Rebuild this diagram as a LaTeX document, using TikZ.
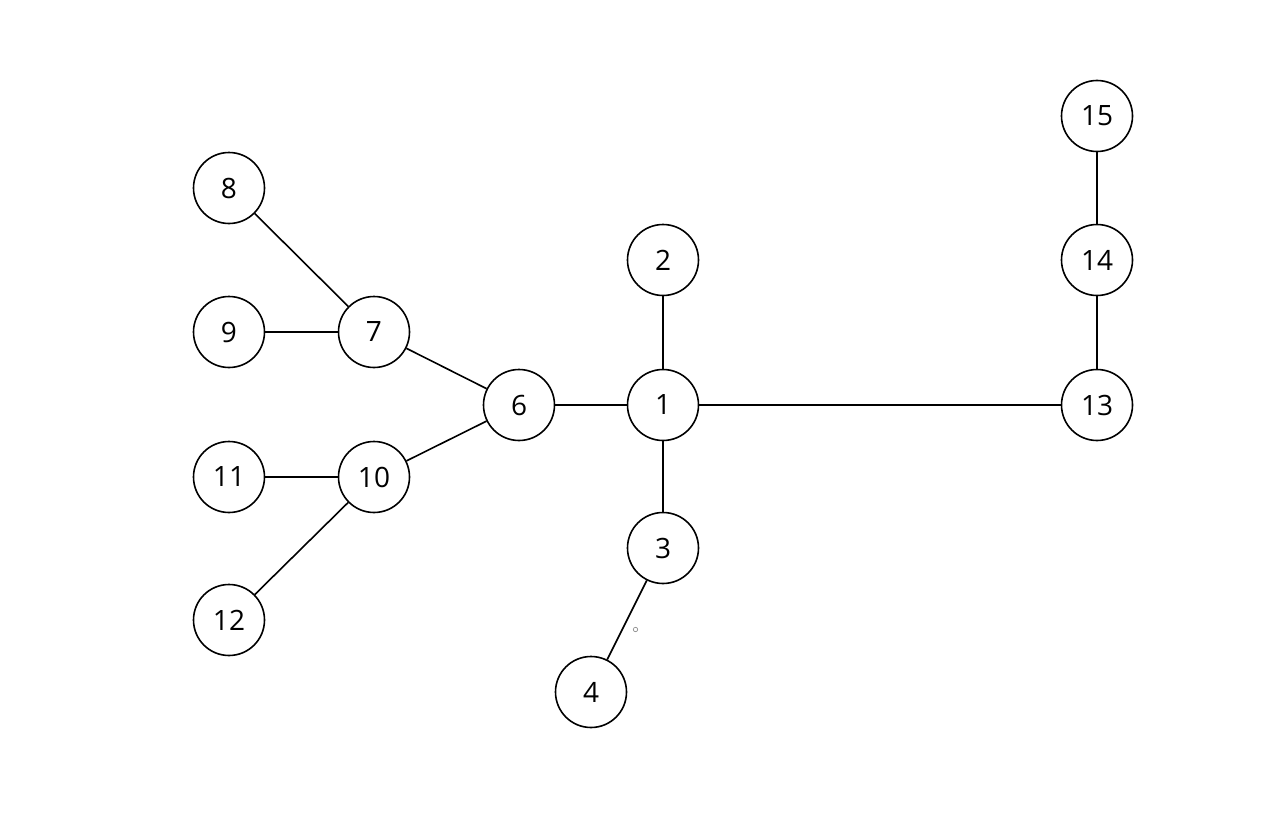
\documentclass[tikz,border=0pt]{standalone}
\usepackage{fontspec}
\setmainfont{Open Sans}
\begin{document}
\begin{tikzpicture}[x=1pt,y=-1pt,
  vtx/.style={circle,draw=black,line width=1.6pt,minimum size=71pt,inner sep=0pt,fill=white,font=\fontsize{28}{32}\selectfont},
  edge/.style={draw=black,line width=1.6pt}]
\useasboundingbox (0,0) rectangle (1280,816);
\fill[white] (0,0) rectangle (1280,816);
\node[vtx] (n1) at (663,405) {1};
\node[vtx] (n2) at (663,260) {2};
\node[vtx] (n3) at (663,548) {3};
\node[vtx] (n4) at (591,692) {4};
\node[vtx] (n6) at (519,405) {6};
\node[vtx] (n7) at (374,332) {7};
\node[vtx] (n8) at (229,188) {8};
\node[vtx] (n9) at (229,332) {9};
\node[vtx] (n10) at (374,477) {10};
\node[vtx] (n11) at (229,477) {11};
\node[vtx] (n12) at (229,620) {12};
\node[vtx] (n13) at (1097,405) {13};
\node[vtx] (n14) at (1097,260) {14};
\node[vtx] (n15) at (1097,116) {15};
\path[edge] (n1) -- (n2);
\path[edge] (n1) -- (n3);
\path[edge] (n3) -- (n4);
\path[edge] (n1) -- (n6);
\path[edge] (n1) -- (n13);
\path[edge] (n13) -- (n14);
\path[edge] (n14) -- (n15);
\path[edge] (n6) -- (n7);
\path[edge] (n6) -- (n10);
\path[edge] (n7) -- (n8);
\path[edge] (n7) -- (n9);
\path[edge] (n10) -- (n11);
\path[edge] (n10) -- (n12);
\draw[gray,line width=0.6pt] (635.5,629.5) circle (2.2);
\end{tikzpicture}
\end{document}
